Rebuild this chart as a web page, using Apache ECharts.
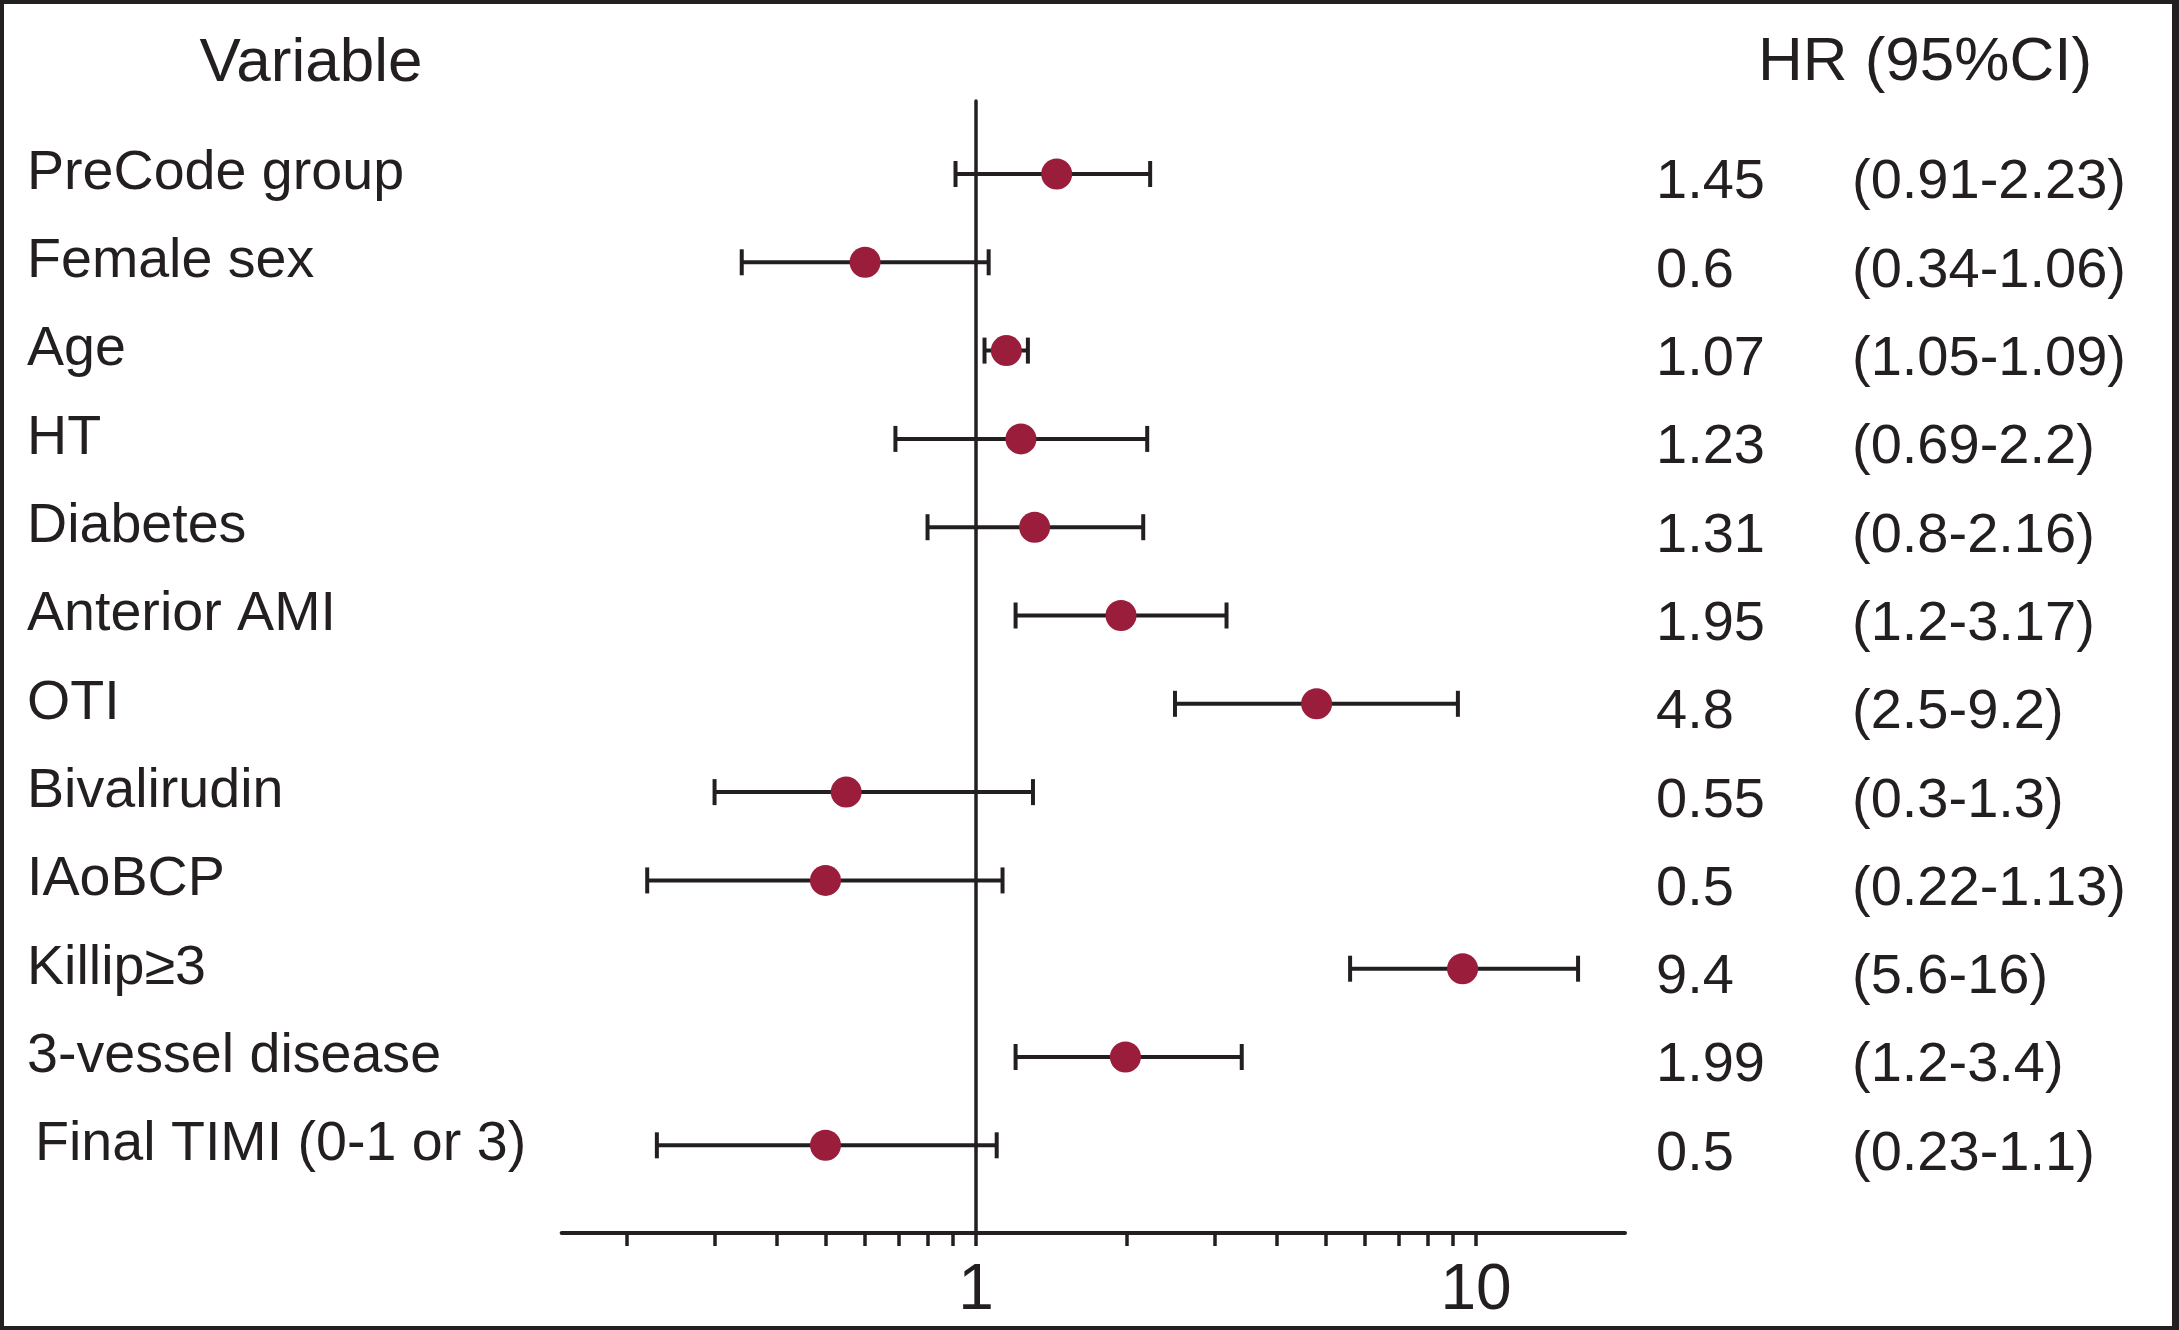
<!DOCTYPE html>
<html>
<head>
<meta charset="utf-8">
<script src="https://cdn.jsdelivr.net/npm/echarts@6/dist/echarts.min.js"></script>
<style>
html,body{margin:0;padding:0;background:#fff;}
#chart{width:2179px;height:1330px;}
</style>
</head>
<body>
<div id="chart"></div>
<script>
// ---- data ----
const variables = ['PreCode group','Female sex','Age','HT','Diabetes','Anterior AMI','OTI','Bivalirudin','IAoBCP','Killip≥3','3-vessel disease','Final TIMI (0-1 or 3)'];
const hrText = ['1.45','0.6','1.07','1.23','1.31','1.95','4.8','0.55','0.5','9.4','1.99','0.5'];
const ciText = ['(0.91-2.23)','(0.34-1.06)','(1.05-1.09)','(0.69-2.2)','(0.8-2.16)','(1.2-3.17)','(2.5-9.2)','(0.3-1.3)','(0.22-1.13)','(5.6-16)','(1.2-3.4)','(0.23-1.1)'];
// plotted positions as drawn in the figure
const hrPoint = [1.45,0.6,1.15,1.23,1.31,1.95,4.8,0.55,0.5,9.4,1.99,0.5];
const ciLow  = [0.91,0.34,1.04,0.69,0.8,1.2,2.5,0.3,0.22,5.6,1.2,0.23];
const ciHigh = [2.23,1.06,1.27,2.2,2.16,3.17,9.2,1.3,1.13,16,3.4,1.1];
const tickValues = [0.2,0.3,0.4,0.5,0.6,0.7,0.8,0.9,1,2,3,4,5,6,7,8,9,10];
const tickLabelValues = [1,10];
const headerLeft = 'Variable';
const headerRight = 'HR (95%CI)';

// ---- styling ----
const INK = '#231f20';
const DOT = '#9b1d3c';
const FONT = '"Liberation Sans", Arial, Helvetica, sans-serif';
const lg = Math.log10;
const LFS = 55.6, RFS = 56;

const rowIdx = variables.map((_, i) => i);
const barData = rowIdx.map(i => [lg(ciLow[i]), i, lg(ciHigh[i])]);
const dotData = rowIdx.map(i => [lg(hrPoint[i]), i]);

const yMin = -0.8267, yMax = 11.993;

const chart = echarts.init(document.getElementById('chart'), null, {renderer: 'canvas'});
const option = {
  backgroundColor: '#fff',
  animation: false,
  grid: {left: 561.6, top: 101, width: 1063.4, height: 1132, containLabel: false},
  xAxis: {
    type: 'value',
    min: -0.8288,
    max: 1.298,
    position: 'bottom',
    splitLine: {show: false},
    axisLine: {show: true, onZero: false, lineStyle: {color: INK, width: 4}},
    axisTick: {show: true, length: 13, customValues: tickValues.map(lg), lineStyle: {color: INK, width: 3.5}},
    axisLabel: {
      show: true, customValues: tickLabelValues.map(lg), margin: 26,
      fontSize: 64, fontFamily: FONT, color: INK,
      formatter: v => String(Math.round(Math.pow(10, v)))
    }
  },
  yAxis: [
    {
      type: 'value', inverse: true, min: yMin, max: yMax,
      splitLine: {show: false},
      axisLine: {show: true, onZero: true, lineStyle: {color: INK, width: 3.5}},
      axisTick: {show: false},
      axisLabel: {show: false}
    },
    {
      type: 'value', inverse: true, min: yMin, max: yMax, position: 'left',
      splitLine: {show: false},
      axisLine: {show: false, onZero: false},
      axisTick: {show: false},
      axisLabel: {
        show: true, customValues: rowIdx, align: 'left', margin: 534.6,
        padding: [0, 0, 1, 0],
        fontSize: LFS, fontFamily: FONT, color: INK,
        formatter: v => {
          const i = Math.round(v);
          return i === variables.length - 1 ? '{ind|' + variables[i] + '}' : '{n|' + variables[i] + '}';
        },
        rich: {
          n: {fontSize: LFS, fontFamily: FONT, color: INK},
          ind: {fontSize: LFS, fontFamily: FONT, color: INK, padding: [0, 0, 0, 8]}
        }
      }
    },
    {
      type: 'value', inverse: true, min: yMin, max: yMax, position: 'right',
      splitLine: {show: false},
      axisLine: {show: false, onZero: false},
      axisTick: {show: false},
      axisLabel: {
        show: true, customValues: rowIdx, align: 'left', margin: 31,
        padding: [18, 0, 0, 0],
        fontSize: RFS, fontFamily: FONT, color: INK,
        formatter: v => {
          const i = Math.round(v);
          return '{a|' + hrText[i] + '}{b|' + ciText[i] + '}';
        },
        rich: {
          a: {fontSize: RFS, fontFamily: FONT, color: INK, width: 196},
          b: {fontSize: RFS, fontFamily: FONT, color: INK}
        }
      }
    }
  ],
  series: [
    {
      type: 'custom',
      yAxisIndex: 0,
      encode: {x: [0, 2], y: 1},
      data: barData,
      z: 2,
      renderItem: (params, api) => {
        const y = api.value(1);
        const p1 = api.coord([api.value(0), y]);
        const p2 = api.coord([api.value(2), y]);
        const h = 13;
        const st = {stroke: INK, lineWidth: 4};
        return {
          type: 'group',
          children: [
            {type: 'line', shape: {x1: p1[0], y1: p1[1], x2: p2[0], y2: p2[1]}, style: st},
            {type: 'line', shape: {x1: p1[0], y1: p1[1] - h, x2: p1[0], y2: p1[1] + h}, style: st},
            {type: 'line', shape: {x1: p2[0], y1: p2[1] - h, x2: p2[0], y2: p2[1] + h}, style: st}
          ]
        };
      }
    },
    {
      type: 'scatter',
      yAxisIndex: 0,
      data: dotData,
      symbol: 'circle',
      symbolSize: 31,
      itemStyle: {color: DOT, opacity: 1},
      z: 5
    }
  ],
  graphic: [
    {type: 'text', x: 311, y: 63.5, style: {text: headerLeft, fontSize: 62, fontFamily: FONT, fill: INK, textAlign: 'center', textVerticalAlign: 'middle'}},
    {type: 'text', x: 1925, y: 63, style: {text: headerRight, fontSize: 62, fontFamily: FONT, fill: INK, textAlign: 'center', textVerticalAlign: 'middle'}},
    {type: 'rect', shape: {x: 0, y: 0, width: 2179, height: 4}, style: {fill: INK}},
    {type: 'rect', shape: {x: 0, y: 1326, width: 2179, height: 4}, style: {fill: INK}},
    {type: 'rect', shape: {x: 0, y: 0, width: 4, height: 1330}, style: {fill: INK}},
    {type: 'rect', shape: {x: 2172, y: 0, width: 7, height: 1330}, style: {fill: INK}}
  ]
};
chart.setOption(option);
</script>
</body>
</html>
